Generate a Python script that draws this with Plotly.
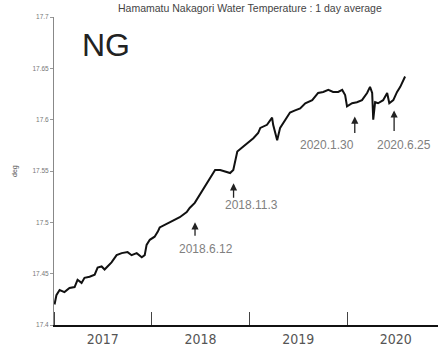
import plotly.graph_objects as go

dates = [
    "2017-01-03", "2017-01-10", "2017-01-22", "2017-02-09", "2017-02-28", "2017-03-19",
    "2017-03-30", "2017-04-14", "2017-04-25", "2017-05-14", "2017-06-02", "2017-06-13",
    "2017-06-28", "2017-07-09", "2017-07-20", "2017-08-04", "2017-08-23", "2017-09-11",
    "2017-10-03", "2017-10-18", "2017-11-06", "2017-11-25", "2017-12-06", "2017-12-13",
    "2017-12-25", "2018-01-12", "2018-01-24", "2018-01-31", "2018-03-09", "2018-04-16",
    "2018-05-12", "2018-05-23", "2018-06-11", "2018-06-30", "2018-07-19", "2018-08-07",
    "2018-08-26", "2018-09-14", "2018-10-10", "2018-10-21", "2018-11-02", "2018-11-09",
    "2018-11-17", "2018-12-05", "2018-12-24", "2019-01-16", "2019-02-03", "2019-02-11",
    "2019-03-08", "2019-03-27", "2019-03-31", "2019-04-15", "2019-04-26", "2019-05-22",
    "2019-06-02", "2019-06-21", "2019-07-10", "2019-07-29", "2019-08-24", "2019-09-15",
    "2019-10-04", "2019-10-23", "2019-11-10", "2019-11-29", "2019-12-14", "2019-12-25",
    "2020-01-01", "2020-01-20", "2020-02-07", "2020-02-26", "2020-03-16", "2020-03-27",
    "2020-04-04", "2020-04-08", "2020-04-15", "2020-04-26", "2020-05-15", "2020-05-30",
    "2020-06-07", "2020-06-22", "2020-07-06", "2020-07-18", "2020-07-29", "2020-08-05",
]
temps = [
    17.420, 17.429, 17.434, 17.432, 17.436, 17.437,
    17.444, 17.441, 17.446, 17.447, 17.449, 17.456,
    17.457, 17.454, 17.457, 17.461, 17.468, 17.470,
    17.471, 17.468, 17.470, 17.466, 17.468, 17.478,
    17.483, 17.486, 17.491, 17.495, 17.500, 17.505,
    17.510, 17.514, 17.519, 17.527, 17.534, 17.543,
    17.551, 17.551, 17.549, 17.548, 17.551, 17.561,
    17.569, 17.573, 17.577, 17.582, 17.587, 17.592,
    17.595, 17.602, 17.595, 17.580, 17.592, 17.603,
    17.607, 17.609, 17.611, 17.616, 17.619, 17.626,
    17.627, 17.629, 17.627, 17.627, 17.629, 17.624,
    17.613, 17.616, 17.617, 17.619, 17.626, 17.632,
    17.626, 17.600, 17.617, 17.616, 17.619, 17.626,
    17.616, 17.619, 17.627, 17.632, 17.639, 17.642,
]

events = ["2018-06-12", "2018-11-03", "2020-01-30", "2020-06-25"]
event_vals = [17.500, 17.538, 17.603, 17.609]
event_labels = ["2018.6.12", "2018.11.3", "2020.1.30", "2020.6.25"]

y_ticks = [17.4, 17.45, 17.5, 17.55, 17.6, 17.65, 17.7]
y_tick_text = ["17.4", "17.45", "17.5", "17.55", "17.6", "17.65", "17.7"]

x_start, x_end = "2017-01-01", "2020-12-06"

fig = go.Figure()
fig.add_trace(go.Scatter(x=dates, y=temps, mode="lines",
                         line=dict(color="#111111", width=2), hoverinfo="skip",
                         showlegend=False))

# arrows and labels
arrow_len = [15, 16, 18, 22]
text_dx = [11, 18, -28, 10]
text_dy = [-27, -22, -28, -35]
for d, v, lab, al, dx, dy in zip(events, event_vals, event_labels, arrow_len, text_dx, text_dy):
    fig.add_annotation(x=d, y=v, xref="x", yref="y", text="", showarrow=True,
                       ax=0, ay=al, arrowhead=2, arrowsize=1.1, arrowwidth=1.3,
                       arrowcolor="#222222")
    fig.add_annotation(x=d, y=v, xref="x", yref="y", text=lab, showarrow=False,
                       xshift=dx, yshift=dy,
                       font=dict(family="Liberation Sans, Arial, sans-serif", size=12,
                                 color="#808080"))

fig.add_annotation(text="NG", xref="paper", yref="paper", x=(80 - 54) / 384,
                   y=(325 - 45) / 308, xanchor="left", yanchor="middle", showarrow=False,
                   font=dict(family="Liberation Sans, Arial, sans-serif", size=32,
                             color="#222222"))
fig.add_annotation(text="Hamamatu Nakagori Water Temperature : 1 day average",
                   xref="paper", yref="paper", x=(250 - 54) / 384, y=(325 - 8) / 308,
                   xanchor="center", yanchor="middle", showarrow=False,
                   font=dict(family="Liberation Sans, Arial, sans-serif", size=10.5,
                             color="#444444"))
fig.add_annotation(text="deg", xref="paper", yref="paper", x=(15 - 54) / 384,
                   y=(325 - 171) / 308, xanchor="center", yanchor="middle",
                   textangle=-90, showarrow=False,
                   font=dict(family="Liberation Sans, Arial, sans-serif", size=7,
                             color="#555555"))

fig.update_layout(
    width=438, height=361,
    margin=dict(l=54, r=0, t=17, b=36, autoexpand=False),
    paper_bgcolor="white", plot_bgcolor="white",
    xaxis=dict(type="date", range=[x_start, x_end], showgrid=False, zeroline=False,
               automargin=False,
               showline=True, linecolor="#111111", linewidth=2,
               ticks="inside", ticklen=13, tickcolor="#444444", tickwidth=1,
               tick0="2017-01-01", dtick="M12", tickformat="%Y",
               ticklabelmode="period",
               tickfont=dict(family="Liberation Sans Narrow, DejaVu Sans Condensed, sans-serif",
                             size=14, color="#555555")),
    xaxis2=dict(type="date", range=[x_start, x_end], overlaying="x", side="top",
                automargin=False,
                showgrid=False, zeroline=False, showline=True, linecolor="#999999",
                linewidth=1, ticks="inside", ticklen=3, tickcolor="#999999",
                tick0="2017-07-17", dtick=200 * 86400000, showticklabels=False),
    yaxis=dict(range=[17.4, 17.7], tickvals=y_ticks, ticktext=y_tick_text,
               automargin=False,
               showgrid=False, zeroline=False, showline=True, linecolor="#888888",
               linewidth=1, ticks="outside", ticklen=3, tickcolor="#999999",
               tickfont=dict(family="Liberation Sans, Arial, sans-serif", size=6.5,
                             color="#777777")),
)

fig.write_html("out.html",
               config={"displayModeBar": False},
               post_script="document.body.style.margin='0px';"
                           "document.body.style.overflow='hidden';")
